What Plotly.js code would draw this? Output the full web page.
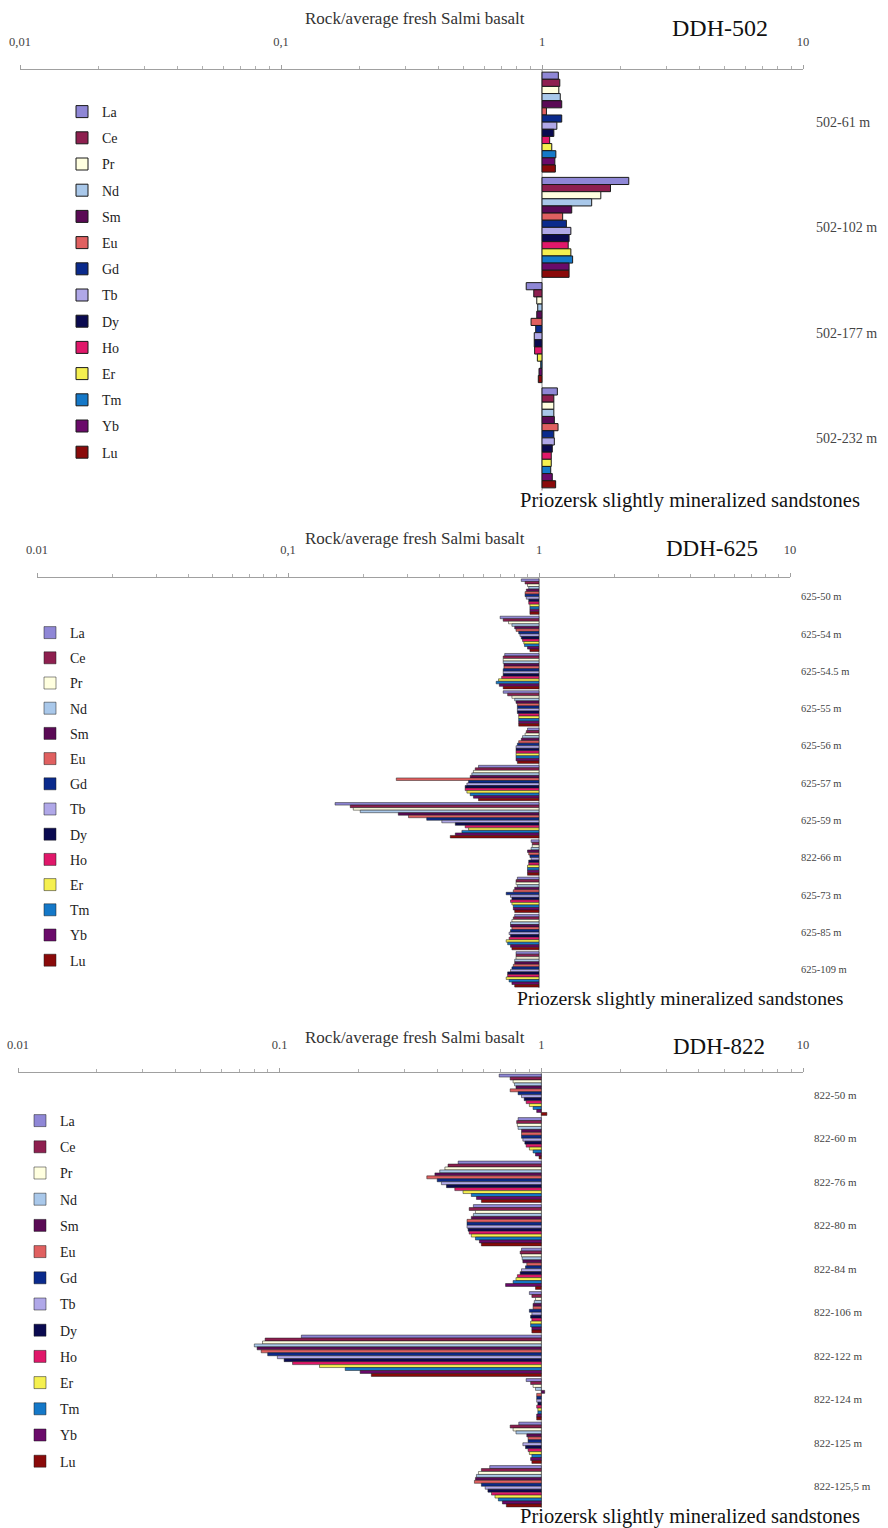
<!DOCTYPE html>
<html>
<head>
<meta charset="utf-8">
<script src="https://cdn.plot.ly/plotly-3.0.1.min.js"></script>
<style>html,body{margin:0;padding:0;background:#fff;}#chart{width:888px;height:1528px;}</style>
</head>
<body>
<div id="chart"></div>
<script>
// ---------------- DATA ----------------
const elements = ['La','Ce','Pr','Nd','Sm','Eu','Gd','Tb','Dy','Ho','Er','Tm','Yb','Lu'];
const elementColors = ['#8f87d6','#8e1f4f','#ffffe0','#a9c8ea','#5a0a55','#e06060','#0a2a8c','#b0a8e8','#0a0a50','#e0186a','#f5f050','#1478c8','#6a0a6a','#8a0a0a'];

const samples502 = ['502-61 m','502-102 m','502-177 m','502-232 m'];
const ddh502_61  = [1.155,1.17,1.16,1.175,1.19,1.04,1.19,1.14,1.11,1.07,1.09,1.13,1.12,1.125];
const ddh502_102 = [2.15,1.83,1.68,1.55,1.30,1.20,1.24,1.29,1.27,1.26,1.29,1.31,1.27,1.27];
const ddh502_177 = [0.87,0.93,0.955,0.963,0.955,0.908,0.946,0.934,0.934,0.937,0.96,0.989,0.974,0.968];
const ddh502_232 = [1.145,1.11,1.11,1.11,1.115,1.152,1.11,1.115,1.095,1.085,1.085,1.08,1.095,1.128];

const samples625 = ['625-50 m','625-54 m','625-54.5 m','625-55 m','625-56 m','625-57 m','625-59 m','822-66 m','625-73 m','625-85 m','625-109 m'];
const ddh625_50  = [0.85,0.88,0.90,0.91,0.89,0.88,0.88,0.89,0.91,0.91,0.92,0.92,0.92,0.92];
const ddh625_54  = [0.70,0.72,0.756,0.78,0.80,0.81,0.83,0.84,0.85,0.86,0.87,0.875,0.90,0.92];
const ddh625_545 = [0.73,0.72,0.72,0.72,0.725,0.725,0.72,0.72,0.72,0.71,0.69,0.675,0.695,0.72];
const ddh625_55  = [0.72,0.75,0.78,0.80,0.81,0.82,0.82,0.82,0.82,0.83,0.83,0.83,0.83,0.83];
const ddh625_56  = [0.90,0.89,0.88,0.86,0.85,0.83,0.82,0.81,0.81,0.81,0.81,0.81,0.81,0.82];
const ddh625_57  = [0.574,0.557,0.548,0.540,0.532,0.27,0.524,0.516,0.508,0.508,0.516,0.532,0.548,0.574];
const ddh625_59  = [0.154,0.177,0.182,0.194,0.275,0.302,0.357,0.41,0.464,0.508,0.524,0.493,0.464,0.443];
const ddh822_66  = [0.93,0.94,0.94,0.93,0.90,0.91,0.92,0.93,0.91,0.91,0.90,0.90,0.90,0.90];
const ddh625_73  = [0.82,0.81,0.81,0.82,0.80,0.79,0.74,0.77,0.78,0.77,0.78,0.79,0.79,0.80];
const ddh625_85  = [0.80,0.79,0.78,0.77,0.77,0.78,0.77,0.76,0.77,0.76,0.74,0.75,0.77,0.78];
const ddh625_109 = [0.81,0.81,0.81,0.80,0.80,0.79,0.78,0.77,0.75,0.75,0.74,0.76,0.78,0.80];

const samples822 = ['822-50 m','822-60 m','822-76 m','822-80 m','822-84 m','822-106 m','822-122 m','822-124 m','822-125 m','822-125,5 m'];
const ddh822_50   = [0.69,0.76,0.78,0.79,0.80,0.76,0.815,0.84,0.86,0.875,0.90,0.93,0.96,1.05];
const ddh822_60   = [0.815,0.805,0.81,0.815,0.84,0.84,0.84,0.85,0.865,0.875,0.90,0.93,0.95,0.98];
const ddh822_76   = [0.481,0.44,0.428,0.409,0.392,0.365,0.40,0.415,0.434,0.467,0.502,0.54,0.565,0.59];
const ddh822_80   = [0.55,0.53,0.56,0.55,0.54,0.52,0.52,0.52,0.525,0.53,0.54,0.56,0.58,0.59];
const ddh822_84   = [0.84,0.83,0.84,0.845,0.85,0.88,0.87,0.84,0.83,0.81,0.80,0.78,0.73,0.95];
const ddh822_106  = [0.90,0.92,0.95,0.94,0.93,0.93,0.90,0.92,0.91,0.92,0.91,0.91,0.92,0.92];
const ddh822_122  = [0.121,0.088,0.086,0.080,0.082,0.085,0.090,0.098,0.104,0.112,0.142,0.178,0.203,0.224];
const ddh822_124  = [0.875,0.91,0.93,0.95,1.03,0.96,0.96,0.96,0.97,0.96,0.97,0.97,0.96,0.96];
const ddh822_125  = [0.82,0.76,0.78,0.80,0.88,0.89,0.89,0.85,0.87,0.89,0.90,0.92,0.91,0.92];
const ddh822_1255 = [0.635,0.59,0.575,0.565,0.56,0.555,0.59,0.61,0.625,0.645,0.665,0.685,0.71,0.735];

const tickVals = [0.01, 0.1, 1, 10];
const tickText502 = ['0,01','0,1','1','10'];
const tickText625 = ['0.01','0,1','1','10'];
const tickText822 = ['0.01','0.1','1','10'];

const axisTitle = 'Rock/average fresh Salmi basalt';
const subTitle = 'Priozersk slightly mineralized sandstones';
const holeNames = ['DDH-502','DDH-625','DDH-822'];

// ---------------- ASSEMBLY ----------------
const W = 888, H = 1528;
const px = x => x / W;
const py = y => 1 - y / H;
const SERIF = 'Liberation Serif, Times New Roman, serif';

const panels = [
  {samples: samples502, rows: [ddh502_61, ddh502_102, ddh502_177, ddh502_232], ticktext: tickText502,
   xd: [20, 803], yd: [69.5, 490.5], lineW: 1, catFont: 14, catStand: 12,
   title: [415, 18], hole: [720, 28], holeSize: 24, sub: [862, 500], subSize: 20.5,
   legend: [62, 96], legendFont: 14, gap: 5},
  {samples: samples625, rows: [ddh625_50, ddh625_54, ddh625_545, ddh625_55, ddh625_56, ddh625_57, ddh625_59, ddh822_66, ddh625_73, ddh625_85, ddh625_109], ticktext: tickText625,
   xd: [37, 790], yd: [578, 988], lineW: 0.5, catFont: 10.5, catStand: 10,
   title: [415, 538], hole: [712, 549], holeSize: 23, sub: [845, 998], subSize: 19.7,
   legend: [30, 617], legendFont: 14, gap: 4},
  {samples: samples822, rows: [ddh822_50, ddh822_60, ddh822_76, ddh822_80, ddh822_84, ddh822_106, ddh822_122, ddh822_124, ddh822_125, ddh822_1255], ticktext: tickText822,
   xd: [18, 803], yd: [1073, 1508], lineW: 0.5, catFont: 11, catStand: 10,
   title: [415, 1037], hole: [719, 1046], holeSize: 23, sub: [862, 1516], subSize: 20.5,
   legend: [20, 1105], legendFont: 14, gap: 5},
];

const traces = [];
const layout = {
  width: W, height: H,
  margin: {l: 0, r: 0, t: 0, b: 0},
  paper_bgcolor: '#fff', plot_bgcolor: 'rgba(0,0,0,0)',
  barmode: 'group', bargap: 0.05, bargroupgap: 0,
  showlegend: true,
  annotations: [], shapes: []
};

panels.forEach((p, k) => {
  const suf = k === 0 ? '' : String(k + 1);
  elements.forEach((el, i) => {
    traces.push({
      type: 'bar', orientation: 'h', name: el,
      y: p.samples,
      x: p.rows.map(r => r[i] - 1),
      base: 1,
      xaxis: 'x' + suf, yaxis: 'y' + suf,
      legend: 'legend' + suf, legendgroup: 'g' + k + '_' + i,
      marker: {color: elementColors[i], line: {color: '#1a1a1a', width: p.lineW}},
      hoverinfo: 'skip'
    });
  });
  layout['xaxis' + suf] = {
    type: 'log', range: [-2, 1], domain: [px(p.xd[0]), px(p.xd[1])],
    anchor: 'y' + suf, side: 'top', fixedrange: true,
    tickmode: 'array', tickvals: tickVals, ticktext: p.ticktext,
    showline: true, linecolor: '#a0a0a0', linewidth: 1,
    ticks: 'outside', ticklen: 4, tickcolor: '#a0a0a0',
    minor: {ticks: 'outside', ticklen: 3, tickcolor: '#b0b0b0', dtick: 'D1', showgrid: false},
    showgrid: false, zeroline: false,
    ticklabelstandoff: 14,
    tickfont: {family: SERIF, size: 12.5, color: '#444'}
  };
  layout['yaxis' + suf] = {
    type: 'category', autorange: 'reversed',
    domain: [py(p.yd[1]), py(p.yd[0])],
    anchor: 'x' + suf, side: 'right', fixedrange: true,
    showline: false, showgrid: false, zeroline: false, ticks: '',
    ticklabelstandoff: p.catStand,
    tickfont: {family: SERIF, size: p.catFont, color: '#444'}
  };
  layout['legend' + suf] = {
    x: px(p.legend[0]), y: py(p.legend[1]), xanchor: 'left', yanchor: 'top',
    bgcolor: 'rgba(0,0,0,0)', traceorder: 'grouped', tracegroupgap: p.gap,
    font: {family: SERIF, size: p.legendFont, color: '#222'}
  };
  layout.shapes.push({
    type: 'line', xref: 'x' + suf + ' domain', yref: 'y' + suf + ' domain',
    x0: 2/3, x1: 2/3, y0: 0, y1: 1, layer: 'below',
    line: {color: '#8a8a8a', width: 1}
  });
  layout.annotations.push(
    {text: axisTitle, xref: 'paper', yref: 'paper', x: px(p.title[0]), y: py(p.title[1]),
     xanchor: 'center', yanchor: 'middle', showarrow: false,
     font: {family: SERIF, size: 17, color: '#333'}},
    {text: holeNames[k], xref: 'paper', yref: 'paper', x: px(p.hole[0]), y: py(p.hole[1]),
     xanchor: 'center', yanchor: 'middle', showarrow: false,
     font: {family: SERIF, size: p.holeSize, color: '#111'}},
    {text: subTitle, xref: 'paper', yref: 'paper', x: px(p.sub[0]), y: py(p.sub[1]),
     xanchor: 'right', yanchor: 'middle', showarrow: false,
     font: {family: SERIF, size: p.subSize, color: '#111'}}
  );
});

Plotly.newPlot('chart', traces, layout, {staticPlot: true, displayModeBar: false});
</script>
</body>
</html>
